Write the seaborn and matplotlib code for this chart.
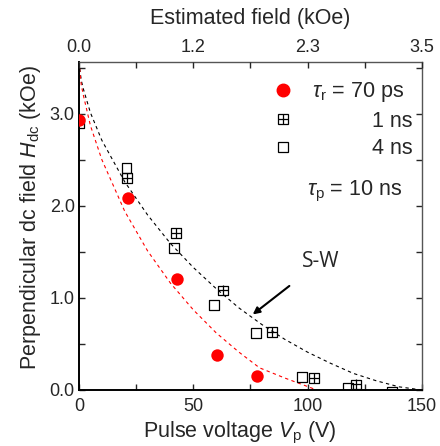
import numpy as np
import pandas as pd
import matplotlib
matplotlib.use("Agg")
import matplotlib.pyplot as plt
import seaborn as sns
from matplotlib.lines import Line2D
from matplotlib.ticker import MultipleLocator, FixedLocator

# --- DADOS ---
v_70ps = [0.0, 21.6, 42.7, 60.2, 77.7]
h_70ps = [2.93, 2.08, 1.21, 0.38, 0.15]

v_1ns = [21.1, 42.3, 63.1, 84.3, 102.8, 121.0]
h_1ns = [2.30, 1.70, 1.08, 0.63, 0.13, 0.06]

v_4ns = [0.0, 20.8, 41.7, 59.2, 77.3, 97.6, 117.8, 137.0]
h_4ns = [2.90, 2.41, 1.54, 0.92, 0.62, 0.145, 0.025, -0.02]

# curvas S-W tracejadas
v_sw_preta = [0, 1, 2, 5, 10, 20, 30, 40, 50, 60, 70, 80, 90, 100, 110, 120, 130, 140, 150]
h_sw_preta = [3.56, 3.36, 3.26, 3.01, 2.71, 2.26, 1.90, 1.59, 1.33, 1.10, 0.89, 0.71,
              0.55, 0.41, 0.29, 0.18, 0.10, 0.034, 0.0]
v_sw_vermelha = [0, 1, 2, 5, 10, 20, 30, 40, 50, 60, 70, 79, 90, 104]
h_sw_vermelha = [3.56, 3.31, 3.19, 2.87, 2.50, 1.94, 1.51, 1.16, 0.87, 0.62, 0.41, 0.24, 0.13, 0.0]

ticks_topo = [0, 50, 100, 150]
rotulos_topo = ["0.0", "1.2", "2.3", "3.5"]
# --------------------

sns.set_style("ticks")
plt.rcParams["font.family"] = ["Liberation Sans", "DejaVu Sans"]
plt.rcParams["mathtext.fontset"] = "custom"
plt.rcParams["mathtext.rm"] = "Liberation Sans"
plt.rcParams["mathtext.it"] = "Liberation Sans:italic"
plt.rcParams["xtick.direction"] = "in"
plt.rcParams["ytick.direction"] = "in"

fig = plt.figure(figsize=(4.4, 4.46), dpi=100)
ax = fig.add_axes([0.1795, 0.1256, 0.959 - 0.1795, 0.861 - 0.1256])

df_preta = pd.DataFrame({"V": v_sw_preta, "H": h_sw_preta})
df_verm = pd.DataFrame({"V": v_sw_vermelha, "H": h_sw_vermelha})
sns.lineplot(data=df_preta, x="V", y="H", ax=ax, color="black", lw=0.8,
             sort=False, estimator=None, dashes=False)
sns.lineplot(data=df_verm, x="V", y="H", ax=ax, color="red", lw=0.8,
             sort=False, estimator=None, dashes=False)
for ln in ax.get_lines():
    ln.set_dashes((3, 3))

sns.scatterplot(x=v_4ns, y=h_4ns, ax=ax, marker="s", s=50, facecolor="none",
                edgecolor="black", linewidth=0.9, zorder=3)
sns.scatterplot(x=v_1ns, y=h_1ns, ax=ax, marker="s", s=50, facecolor="none",
                edgecolor="black", linewidth=0.9, zorder=3)
sns.scatterplot(x=v_1ns, y=h_1ns, ax=ax, marker="+", s=50, color="black",
                linewidth=0.9, zorder=3)
sns.scatterplot(x=v_70ps, y=h_70ps, ax=ax, marker="o", s=80, color="red",
                edgecolor="red", linewidth=0, zorder=4)

ax.set_xlim(0, 150)
ax.set_ylim(0, 3.56)
ax.xaxis.set_major_locator(MultipleLocator(50))
ax.xaxis.set_minor_locator(MultipleLocator(25))
ax.yaxis.set_major_locator(MultipleLocator(1.0))
ax.yaxis.set_minor_locator(MultipleLocator(0.5))
ax.yaxis.set_major_formatter(matplotlib.ticker.FormatStrFormatter("%.1f"))
ax.tick_params(which="both", right=True, labelsize=13, width=1, length=4)
ax.tick_params(axis="x", pad=6)
ax.tick_params(axis="y", pad=3)

ax.set_xlabel(r"Pulse voltage $V_{\rm p}$ (V)", fontsize=15.5, labelpad=3)
ax.set_ylabel(r"Perpendicular dc field $H_{\rm dc}$ (kOe)", fontsize=15.5, labelpad=5)
ax.xaxis.label.set_x(0.47)
ax.yaxis.label.set_y(0.525)

for lado in ["left", "bottom"]:
    ax.spines[lado].set_linewidth(1.4)
    ax.spines[lado].set_color("black")
for lado in ["right", "top"]:
    ax.spines[lado].set_linewidth(1.0)
    ax.spines[lado].set_color("#555555")

# eixo de cima
ax2 = ax.twiny()
ax2.set_xlim(ax.get_xlim())
ax2.xaxis.set_major_locator(FixedLocator(ticks_topo))
ax2.set_xticklabels(rotulos_topo)
ax2.xaxis.set_minor_locator(MultipleLocator(25))
ax2.tick_params(which="both", labelsize=13, length=4, width=1, pad=4)
ax2.set_xlabel("Estimated field (kOe)", fontsize=15.5, labelpad=11)
for sp in ax2.spines.values():
    sp.set_visible(False)

# legenda
handles = [
    Line2D([], [], ls="none", marker="o", ms=9, color="red", mec="red"),
    Line2D([], [], ls="none", marker="s", ms=7, mfc="none", mec="black", mew=0.9),
    Line2D([], [], ls="none", marker="s", ms=7, mfc="none", mec="black", mew=0.9),
]
plus = Line2D([], [], ls="none", marker="+", ms=7, color="black", mew=0.9)
labels = [r"$\tau_{\rm r}$ = 70 ps", "          1 ns", "          4 ns"]
ax.legend([handles[0], (handles[1], plus), handles[2]], labels, loc="upper right",
          frameon=False, fontsize=15.5, handlelength=1.0, handletextpad=0.85,
          labelspacing=0.3, borderaxespad=0.3, bbox_to_anchor=(1.018, 0.99))

ax.text(120.5, 2.16, r"$\tau_{\rm p}$ = 10 ns", fontsize=15.5, ha="center", va="center")

ax.annotate("S-W", xy=(76, 0.82), xytext=(105.5, 1.39), fontsize=15,
            family=["Open Sans", "DejaVu Sans"], ha="center", va="center",
            arrowprops=dict(arrowstyle="-|>", color="black", lw=1.5,
                            mutation_scale=10, shrinkA=12, shrinkB=0))

plt.savefig("out.png", dpi=100)
plt.close()
